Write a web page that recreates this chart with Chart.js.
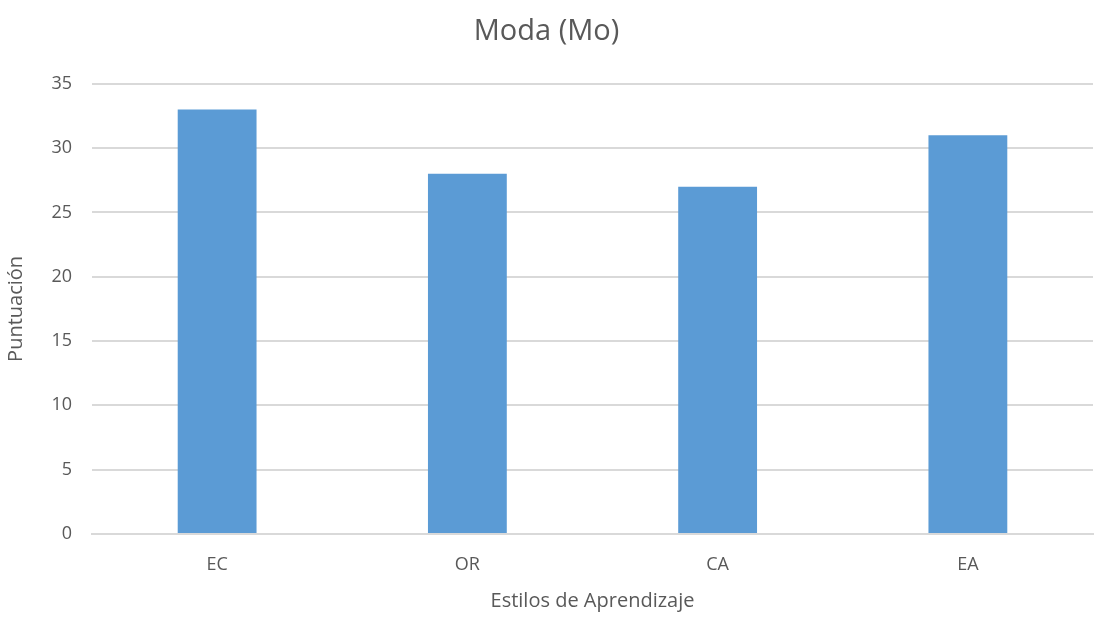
<!DOCTYPE html>
<html>
<head>
<meta charset="utf-8">
<script src="https://cdn.jsdelivr.net/npm/chart.js@4/dist/chart.umd.min.js"></script>
<style>
  html, body { margin: 0; padding: 0; background: #fff; }
  #wrap { width: 1096px; height: 620px; }
</style>
</head>
<body>
<div id="wrap"><canvas id="chart"></canvas></div>
<script>
const categories = ["EC", "OR", "CA", "EA"];
const modaValues = [33, 28, 27, 31];
const yTicks = [0, 5, 10, 15, 20, 25, 30, 35];

const textColor = "#595959";
const fontFamily = "'Open Sans', 'Noto Sans', sans-serif";

document.addEventListener("DOMContentLoaded", () => {
  const ctx = document.getElementById("chart").getContext("2d");
  new Chart(ctx, {
    type: "bar",
    data: {
      labels: categories,
      datasets: [
        {
          label: "Moda (Mo)",
          data: modaValues,
          backgroundColor: "#5B9BD5",
          borderWidth: 0,
          barPercentage: 1,
          categoryPercentage: 0.315,
        },
      ],
    },
    options: {
      responsive: true,
      maintainAspectRatio: false,
      animation: false,
      layout: { padding: { left: 0, right: 3, top: 14, bottom: 3 } },
      plugins: {
        legend: { display: false },
        tooltip: { enabled: false },
        title: {
          display: true,
          text: "Moda (Mo)",
          color: textColor,
          font: { family: fontFamily, size: 29, weight: "normal" },
          padding: { top: 0, bottom: 35 },
        },
      },
      scales: {
        x: {
          grid: { display: false },
          border: { color: "#D9D9D9", width: 2 },
          ticks: {
            color: textColor,
            font: { family: fontFamily, size: 18 },
            padding: 12,
          },
          title: {
            display: true,
            text: "Estilos de Aprendizaje",
            color: textColor,
            font: { family: fontFamily, size: 20 },
            padding: { top: 14 },
          },
          afterFit: (axis) => { axis.height = 83; },
        },
        y: {
          min: 0,
          max: 35,
          afterBuildTicks: (axis) => {
            axis.ticks = yTicks.map((v) => ({ value: v }));
          },
          grid: { color: "#D9D9D9", lineWidth: 2, drawTicks: false },
          border: { display: false },
          ticks: {
            color: textColor,
            font: { family: fontFamily, size: 18 },
            padding: 20,
          },
          title: {
            display: true,
            text: "Puntuación",
            color: textColor,
            font: { family: fontFamily, size: 20 },
            padding: { bottom: 4 },
          },
          afterFit: (axis) => { axis.width = 92; },
        },
      },
    },
  });
});
</script>
</body>
</html>
